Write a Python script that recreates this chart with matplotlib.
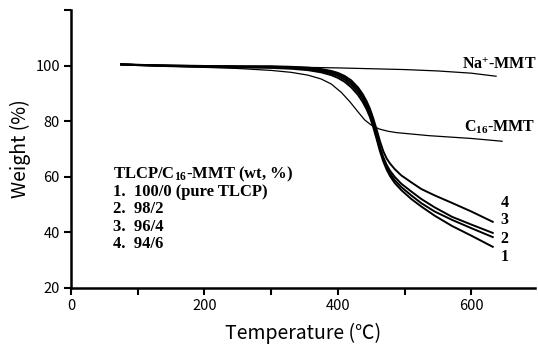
import matplotlib
matplotlib.use("Agg")
import matplotlib.pyplot as plt
from matplotlib.ticker import MultipleLocator

plt.rcParams['mathtext.fontset'] = 'custom'
plt.rcParams['mathtext.rm'] = 'Liberation Serif:bold'
plt.rcParams['mathtext.bf'] = 'Liberation Serif:bold'
plt.rcParams['mathtext.it'] = 'Liberation Serif:bold'

# TLCP / C16-MMT composites
temp_tlcp = [75, 100, 150, 200, 250, 300, 330, 355, 375, 390, 400, 410, 420, 430, 437,
             443, 448, 453, 458, 463, 468, 473, 478, 485, 495, 510, 525, 545, 571, 600, 632]
w_1 = [100.5, 100.2, 99.8, 99.6, 99.4, 99.2, 98.9, 98.4, 97.6, 96.6, 95.6, 94.2, 92.2,
       89.5, 87.0, 84.3, 81.5, 77.8, 73.6, 69.2, 65.5, 62.6, 60.3, 57.8, 55.2, 52.0, 49.3,
       46.0, 42.3, 38.8, 34.8]
w_2 = [100.5, 100.2, 99.9, 99.7, 99.6, 99.5, 99.2, 98.8, 98.1, 97.2, 96.3, 95.0, 93.1,
       90.5, 88.0, 85.2, 82.3, 78.6, 74.4, 70.0, 66.3, 63.4, 61.2, 58.8, 56.3, 53.3, 50.5,
       47.5, 44.5, 41.5, 38.3]
w_3 = [100.5, 100.3, 100.0, 99.8, 99.7, 99.6, 99.4, 99.1, 98.5, 97.7, 96.9, 95.7, 93.9,
       91.3, 88.8, 86.0, 83.1, 79.4, 75.2, 70.8, 67.1, 64.3, 62.2, 60.0, 57.5, 54.7, 52.0,
       49.0, 45.6, 42.8, 39.8]
w_4 = [100.5, 100.3, 100.1, 99.9, 99.8, 99.8, 99.6, 99.3, 98.8, 98.1, 97.4, 96.3, 94.7,
       92.2, 89.8, 87.2, 84.5, 81.0, 77.0, 72.8, 69.2, 66.6, 64.8, 62.8, 60.5, 58.0, 55.6,
       53.3, 50.6, 47.5, 43.8]

# Clays
temp_na = [75, 150, 250, 350, 400, 450, 500, 550, 600, 637]
w_na = [100.3, 100.0, 99.7, 99.4, 99.2, 98.9, 98.6, 98.1, 97.3, 96.2]
temp_c16 = [75, 150, 250, 300, 330, 355, 375, 390, 405, 418, 430, 440, 450, 462, 475,
            488, 537, 600, 646]
w_c16 = [100.3, 99.8, 99.0, 98.3, 97.6, 96.6, 95.2, 93.4, 90.4, 87.0, 83.4, 80.5, 78.6,
         77.2, 76.4, 75.9, 74.8, 73.8, 72.8]

curve_labels = ["4", "3", "2", "1"]
legend_lines = [r"TLCP/C$_{16}$-MMT (wt, %)", "1.  100/0 (pure TLCP)", "2.  98/2",
                "3.  96/4", "4.  94/6"]

fig = plt.figure(figsize=(5.38, 3.49), dpi=100)
ax = fig.add_axes([0.132, 0.175, 0.862, 0.796])

for w in (w_1, w_2, w_3, w_4):
    ax.plot(temp_tlcp, w, color='black', lw=1.4)
ax.plot(temp_na, w_na, color='black', lw=0.9)
ax.plot(temp_c16, w_c16, color='black', lw=0.9)

ax.set_xlim(0, 695)
ax.set_ylim(20, 120)
ax.xaxis.set_major_locator(MultipleLocator(200))
ax.xaxis.set_minor_locator(MultipleLocator(100))
ax.set_yticks([20, 40, 60, 80, 100, 120])
ax.set_yticklabels(["20", "40", "60", "80", "100", ""])
for s in ('top', 'right'):
    ax.spines[s].set_visible(False)
for s in ('left', 'bottom'):
    ax.spines[s].set_linewidth(1.8)
ax.tick_params(which='major', length=5, width=1.5, labelsize=10.5, pad=3)
ax.tick_params(which='minor', length=5, width=1.5)
for lbl in ax.get_xticklabels() + ax.get_yticklabels():
    lbl.set_family(['Noto Sans CJK KR', 'DejaVu Sans'])
    lbl.set_fontweight('light')

ax.set_xlabel("Temperature (℃)", fontsize=14, family=['Noto Sans CJK KR', 'DejaVu Sans'],
              fontweight='light', labelpad=7)
ax.set_ylabel("Weight (%)", fontsize=14, family=['Noto Sans CJK KR', 'DejaVu Sans'],
              fontweight='light', labelpad=3)

serif = dict(family='Liberation Serif', fontweight='bold', color='black')
# curve numbers
for lab, yv in zip(curve_labels, [50.6, 44.5, 37.7, 31.2]):
    ax.text(650, yv, lab, fontsize=11.5, ha='center', va='center', **serif)
ax.text(698, 100.3, r"Na$^{+}$-MMT", fontsize=11.5, ha='right', va='center', clip_on=False, **serif)
ax.text(696, 77.7, r"C$_{16}$-MMT", fontsize=11.5, ha='right', va='center', clip_on=False, **serif)

y0 = 61.0
for i, line in enumerate(legend_lines):
    ax.text(63, y0 - i * 6.3, line, fontsize=12, ha='left', va='center', **serif)

fig.savefig("out.png", dpi=100)
